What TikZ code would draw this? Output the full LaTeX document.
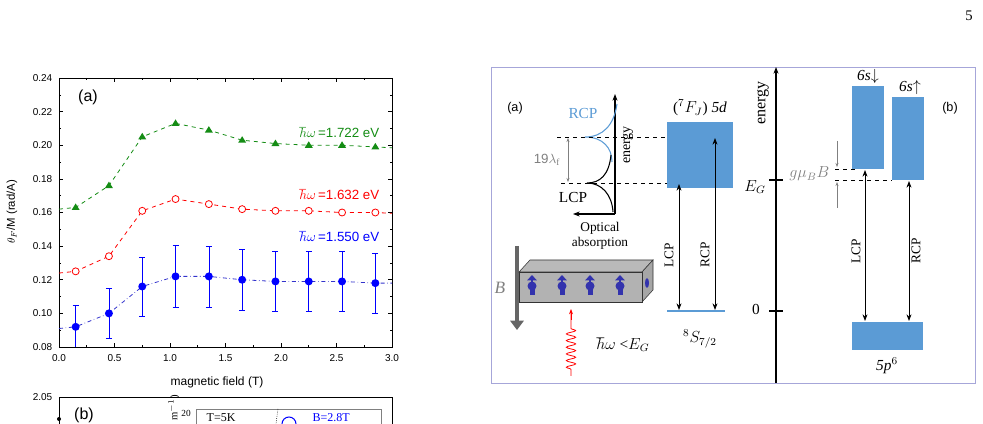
\documentclass[tikz,border=0pt]{standalone}
\usepackage{fontspec}
\setsansfont{Liberation Sans}
\setmainfont{Liberation Serif}
\usetikzlibrary{arrows.meta,decorations.pathmorphing}
\definecolor{bbox}{RGB}{91,155,213}
\definecolor{dgreen}{RGB}{20,140,20}
\begin{document}
\begin{tikzpicture}[x=0.75pt,y=-0.75pt,
  tick/.style={font=\sffamily\fontsize{7.5}{8}\selectfont},
  lab/.style={font=\fontsize{11.5}{12}\selectfont},
  arr/.style={-{Stealth[length=5pt]},thick},
  darr/.style={{Stealth[length=5pt]}-{Stealth[length=5pt]},semithick},
  box/.style={fill=bbox,draw=none}]
\useasboundingbox (0,0) rectangle (983,424);
\node at (969,16) {\fontsize{11}{12}\selectfont 5};
% ---- plot (a)
\def\X#1{59+#1*111}
\def\Y#1{347-(#1-0.08)*1681.25}
\draw[semithick] (59,78) rectangle (392,347);
\foreach \v/\t in {0.08/0.08,0.10/0.10,0.12/0.12,0.14/0.14,0.16/0.16,0.18/0.18,0.20/0.20,0.22/0.22,0.24/0.24}{
  \draw ({59},{\Y{\v}}) -- ++(4,0); \draw ({392},{\Y{\v}}) -- ++(-4,0);
  \node[tick,anchor=east] at ({57},{\Y{\v}}) {\t};}
\foreach \v in {0.09,0.11,0.13,0.15,0.17,0.19,0.21,0.23}{
  \draw ({59},{\Y{\v}}) -- ++(2,0); \draw ({392},{\Y{\v}}) -- ++(-2,0);}
\foreach \f in {0.0,0.5,1.0,1.5,2.0,2.5,3.0}{
  \draw ({\X{\f}},347) -- ++(0,-4); \draw ({\X{\f}},78) -- ++(0,4);
  \node[tick] at ({\X{\f}},358) {\f};}
\foreach \f in {0.25,0.75,1.25,1.75,2.25,2.75}{
  \draw ({\X{\f}},347) -- ++(0,-2); \draw ({\X{\f}},78) -- ++(0,2);}
\node[font=\sffamily\fontsize{12}{13}\selectfont] at (88,97) {(a)};
\node[font=\sffamily\fontsize{8.5}{9}\selectfont,rotate=90] at (12,212) {$\theta_F$/M (rad/A)};
\node[font=\sffamily\fontsize{9}{10}\selectfont] at (217,382) {magnetic field (T)};
% data
\draw[dgreen,dashed,semithick] ({\X{0}},{\Y{0.162}}) \foreach \f/\v in {0.15/.163,0.45/.176,0.75/.205,1.05/.213,1.35/.209,1.65/.203,1.95/.201,2.25/.200,2.55/.200,2.85/.199}{ -- ({\X{\f}},{\Y{\v}})} -- ({\X{3}},{\Y{0.1985}});
\foreach \f/\v in {0.15/.163,0.45/.176,0.75/.205,1.05/.213,1.35/.209,1.65/.203,1.95/.201,2.25/.200,2.55/.200,2.85/.199}
  \fill[dgreen] ({\X{\f}},{\Y{\v}}) ++(0,-4) -- ++(4,6.5) -- ++(-8,0) -- cycle;
\draw[red,dashed,semithick] ({\X{0}},{\Y{0.124}}) \foreach \f/\v in {0.15/.125,0.45/.134,0.75/.161,1.05/.168,1.35/.165,1.65/.162,1.95/.161,2.25/.161,2.55/.160,2.85/.160}{ -- ({\X{\f}},{\Y{\v}})} -- ({\X{3}},{\Y{0.1595}});
\foreach \f/\v in {0.15/.125,0.45/.134,0.75/.161,1.05/.168,1.35/.165,1.65/.162,1.95/.161,2.25/.161,2.55/.160,2.85/.160}
  \draw[red,fill=white,semithick] ({\X{\f}},{\Y{\v}}) circle (3.5);
\foreach \f/\v/\e in {0.45/.100/.015,0.75/.116/.0175,1.05/.122/.0185,1.35/.122/.0182,1.65/.120/.018,1.95/.119/.018,2.25/.119/.0178,2.55/.119/.0178,2.85/.118/.0178}{
  \draw[blue] ({\X{\f}},{\Y{\v-\e}}) -- ({\X{\f}},{\Y{\v+\e}});
  \draw[blue] ({\X{\f}-3},{\Y{\v-\e}}) -- ++(6,0) ({\X{\f}-3},{\Y{\v+\e}}) -- ++(6,0);}
\draw[blue] ({\X{0.15}},347) -- ({\X{0.15}},{\Y{0.105}}) ++(-3,0) -- ++(6,0);
\draw[blue!60!gray,dash dot,semithick] ({\X{0}},{\Y{0.091}}) \foreach \f/\v in {0.15/.092,0.45/.100,0.75/.116,1.05/.122,1.35/.122,1.65/.120,1.95/.119,2.25/.119,2.55/.119,2.85/.118}{ -- ({\X{\f}},{\Y{\v}})} -- ({\X{3}},{\Y{0.118}});
\foreach \f/\v in {0.15/.092,0.45/.100,0.75/.116,1.05/.122,1.35/.122,1.65/.120,1.95/.119,2.25/.119,2.55/.119,2.85/.118}
  \fill[blue] ({\X{\f}},{\Y{\v}}) circle (4);
\node[dgreen,font=\sffamily\fontsize{10}{11}\selectfont,anchor=east] at (384,133) {$\hbar\omega$\,=1.722 eV};
\node[red,font=\sffamily\fontsize{10}{11}\selectfont,anchor=east] at (384,195) {$\hbar\omega$\,=1.632 eV};
\node[blue,font=\sffamily\fontsize{10}{11}\selectfont,anchor=east] at (384,237) {$\hbar\omega$\,=1.550 eV};
% ---- plot (b) partial
\draw[semithick] (59,424) -- (59,397) -- (392,397) -- (392,424);
\node[tick,anchor=east] at (57,397) {2.05};
\node[font=\sffamily\fontsize{12}{13}\selectfont] at (84,415) {(b)};
\draw[gray] (196,424) -- (196,409) -- (381,409) -- (381,424);
\node[font=\fontsize{7}{8}\selectfont] at (186,413) {20};
\node[font=\fontsize{9}{10}\selectfont,anchor=west] at (202,418) {T=5K};
\node[font=\fontsize{8}{9}\selectfont,rotate=90] at (174,408) {m$^{-1}$)};
\draw[densely dotted] (278,409) -- (276,424);
\draw[blue,thick] (289,424) circle (7);
\node[blue,font=\fontsize{9}{10}\selectfont,anchor=west] at (308,418) {B=2.8T};
\fill (59,419) circle (2);
% ---- right panel
\draw[gray!60!blue!50,semithick] (491,67) rectangle (975,383);
\node[font=\sffamily\fontsize{9.5}{10}\selectfont] at (515,108) {(a)};
\draw[arr] (615,214) -- (615,94);
\draw[arr] (615,214) -- (573,214);
\draw[bbox,thick] (617,104) .. controls (614,125) and (603,137) .. (585,137) .. controls (603,137) and (612,148) .. (612,162);
\draw[black,thick] (611,155) .. controls (609,175) and (600,183) .. (587,183) .. controls (602,183) and (612,195) .. (613,212);
\node[bbox,lab] at (583,114) {RCP};
\node[lab] at (573,197) {LCP};
\node[font=\fontsize{10.5}{11}\selectfont,rotate=90] at (628,145) {energy};
\node[font=\fontsize{10}{11}\selectfont,align=center,inner sep=0pt] at (600,236) {Optical\\absorption};
\draw[dashed] (557,137) -- (718,137);
\draw[dashed] (561,183) -- (690,183);
\draw[gray,{Stealth[length=3pt]}-{Stealth[length=3pt]}] (568,138) -- (568,182);
\node[gray,font=\sffamily\fontsize{10}{11}\selectfont] at (547,160) {19$\lambda_{\mathrm f}$};
\fill[box] (667,122) rectangle (733,188);
\node[lab] at (700,108) {($^7F_J$) \textit{5d}};
\draw[darr] (679,184) -- (679,310);
\draw[darr] (715,138) -- (715,310);
\node[font=\fontsize{10}{11}\selectfont,rotate=90] at (669,255) {LCP};
\node[font=\fontsize{10}{11}\selectfont,rotate=90] at (705,255) {RCP};
\draw[bbox,very thick] (667,311) -- (725,311);
\node[lab] at (700,339) {$^8S_{7/2}$};
% B arrow and crystal
\draw[gray!80!black,line width=3.5pt,-{Triangle[length=7pt,width=10pt]}] (517,246) -- (517,330);
\node[gray,font=\fontsize{13}{14}\selectfont\itshape] at (500,288) {B};
\fill[gray!55,draw=gray!40!black,thin] (519,272) -- (530,260) -- (653,260) -- (642,272) -- cycle;
\fill[gray!70,draw=gray!40!black,thin] (642,272) -- (653,260) -- (653,290) -- (642,302) -- cycle;
\fill[gray!60,draw=gray!40!black,thin] (519,272) rectangle (642,302);
\foreach \xs in {532,562,590,620}{
  \fill[blue!60!black!80] (\xs,286) circle (4.5);
  \fill[blue!60!black!80] (\xs-2.5,288) rectangle (\xs+2.5,295);
  \draw[blue!60!black!80,line width=2pt,-{Triangle[length=4pt,width=7pt]}] (\xs,284) -- (\xs,275);}
\fill[blue!60!black!80] (647,283) ellipse (2 and 5);
\draw[red,semithick,decorate,decoration={snake,amplitude=3.5pt,segment length=5pt,pre length=5pt,post length=12pt}] (571,376) -- (571,311);
\draw[red,semithick,-{Stealth[length=4pt]}] (571,320) -- (571,309);
\node[lab,anchor=west] at (592,345) {$\hbar\omega$ <$E_G$};
% energy axis
\draw[arr] (776,383) -- (776,67);
\node[font=\fontsize{12}{13}\selectfont,rotate=90] at (763,103) {energy};
\draw[thick] (769,180) -- (783,180);
\draw[thick] (769,311) -- (783,311);
\node[lab] at (755,187) {$E_G$};
\node[lab] at (756,309) {0};
\fill[box] (852,86) rectangle (884,169);
\fill[box] (892,97) rectangle (924,180);
\node[lab] at (868,77) {\textit{6s}$\downarrow$};
\node[lab] at (910,88) {\textit{6s}$\uparrow$};
\node[font=\sffamily\fontsize{9.5}{10}\selectfont] at (950,108) {(b)};
\draw[dashed] (835,169) -- (856,169);
\draw[dashed] (835,180) -- (892,180);
\draw[gray,-{Stealth[length=3pt]}] (837,141) -- (837,167);
\draw[gray,-{Stealth[length=3pt]}] (837,208) -- (837,182);
\node[gray,lab,anchor=east] at (834,174) {$g\mu_BB$};
\draw[darr] (865,170) -- (865,321);
\draw[darr] (909,181) -- (909,321);
\node[font=\fontsize{10}{11}\selectfont,rotate=90] at (856,251) {LCP};
\node[font=\fontsize{10}{11}\selectfont,rotate=90] at (916,251) {RCP};
\fill[box] (852,322) rectangle (923,350);
\node[lab] at (887,366) {\textit{5p}$^6$};
\end{tikzpicture}
\end{document}
